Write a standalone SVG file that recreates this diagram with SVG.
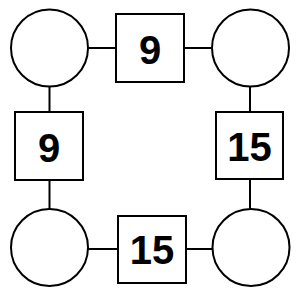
<svg xmlns="http://www.w3.org/2000/svg" width="300" height="300" viewBox="0 0 300 300">
<style>
.n{fill:#fff;stroke:#000;stroke-width:2}
.c line{stroke:#000;stroke-width:2}
text{font-family:"Liberation Sans",Arial,sans-serif;font-weight:bold;font-size:40px;text-anchor:middle;fill:#000}
</style>
<rect width="300" height="300" fill="#fff"/>
<g class="c">
<line x1="88" y1="48" x2="116" y2="48"/>
<line x1="184" y1="48" x2="211" y2="48"/>
<line x1="49.5" y1="87" x2="49.5" y2="112"/>
<line x1="250" y1="87" x2="250" y2="112"/>
<line x1="49.5" y1="180" x2="49.5" y2="209"/>
<line x1="250" y1="179" x2="250" y2="209"/>
<line x1="88" y1="249" x2="118" y2="249"/>
<line x1="186" y1="249" x2="212" y2="249"/>
</g>
<g id="c1"><circle class="n" cx="49.5" cy="48" r="38.5"/></g>
<g id="c2"><circle class="n" cx="250.5" cy="48" r="38.5"/></g>
<g id="c3"><circle class="n" cx="49.5" cy="247.5" r="38.5"/></g>
<g id="c4"><circle class="n" cx="251" cy="247.5" r="38.5"/></g>
<g id="s1"><rect class="n" x="116" y="14" width="68" height="68"/><text x="150" y="63.5">9</text></g>
<g id="s2"><rect class="n" x="15" y="112" width="68" height="68"/><text x="49" y="161.5">9</text></g>
<g id="s3"><rect class="n" x="216" y="112" width="67" height="67"/><text x="249.5" y="161">15</text></g>
<g id="s4"><rect class="n" x="118" y="216" width="68" height="67"/><text x="152" y="264">15</text></g>
</svg>
